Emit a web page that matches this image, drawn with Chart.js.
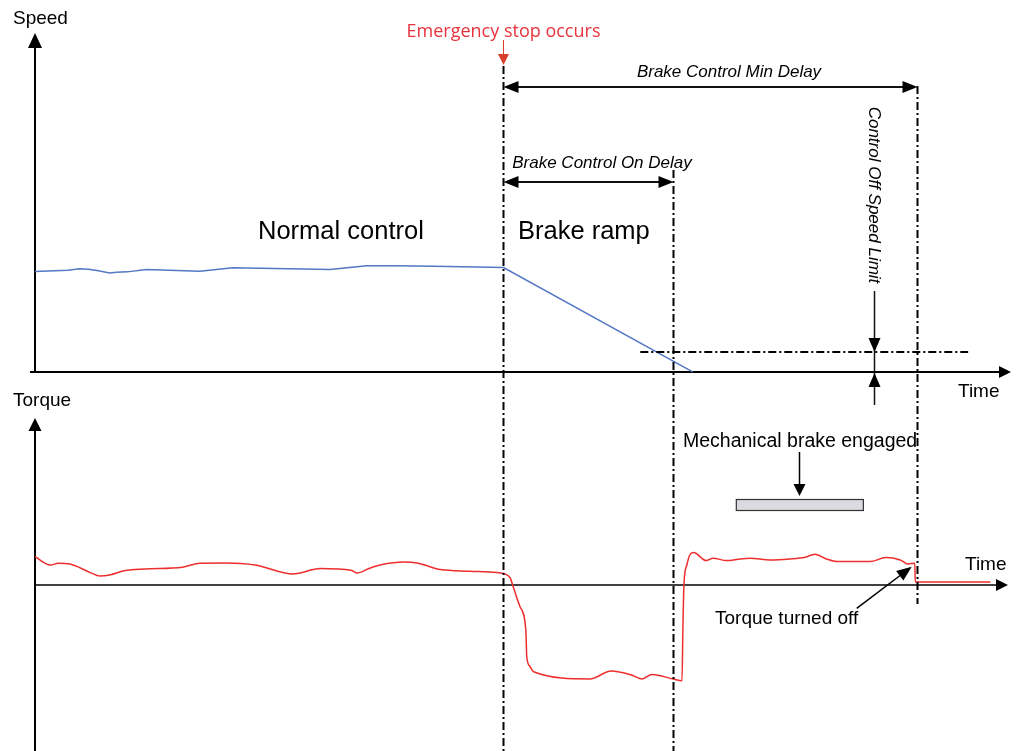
<!DOCTYPE html>
<html>
<head>
<meta charset="utf-8">
<script src="https://cdn.jsdelivr.net/npm/chart.js@4.4.1/dist/chart.umd.min.js"></script>
<style>
  html, body { margin: 0; padding: 0; background: #fff; }
</style>
</head>
<body>
<canvas id="brakeChart" width="1016" height="751"></canvas>
<script>
// speed trace, time in % of the time window, speed in % of the axis height
const speedTime  = [0, 3.4, 4.6, 5.5, 6.4, 7.7, 8.4, 9.5, 11.5, 17.0, 20.4, 30.4, 34.2, 37.3, 41.1, 48.3, 67.8];
const speedValue = [29.8, 30.2, 30.6, 30.5, 30.1, 29.4, 29.6, 29.7, 30.4, 29.9, 30.9, 30.4, 31.5, 31.5, 31.4, 31.0, 0];

// torque trace (same time base)
const torqueTime  = [0, 1.6, 2.4, 3.6, 5.7, 6.7, 7.7, 9.3, 11.3, 15.2, 17.0, 19.6, 22.7, 26.6, 29.4, 32.6, 33.2, 34.5, 36.3, 38.0,
                     39.4, 41.8, 44.8, 47.6, 48.5, 49.0, 49.3, 50.0, 50.6, 50.7, 51.0, 51.4, 57.2, 59.4, 61.5, 62.6, 63.6, 65.8, 66.7,
                     66.8, 66.9, 67.2, 67.5, 67.9, 69.2, 69.9, 71.3, 72.7, 73.7, 75.8, 77.8, 79.4, 80.4, 81.6, 82.7, 86.1, 87.7,
                     89.2, 90.0, 90.7, 90.75, 98.5];
const torqueValue = [14.2, 10.0, 10.9, 10.5, 6.2, 4.5, 5.0, 7.2, 8.0, 8.9, 10.9, 11.0, 10.0, 5.5, 8.2, 7.4, 6.0, 8.4, 10.7, 11.5,
                     11.0, 7.7, 6.9, 6.2, 5.4, 3.4, -0.9, -10.9, -22.5, -36.0, -40.5, -43.4, -47.0, -43.0, -45.0, -47.0, -44.7, -47.0, -47.9,
                     -20.0, 0, 10.0, 15.0, 16.2, 12.2, 13.4, 12.2, 13.0, 13.4, 12.5, 13.0, 13.9, 15.4, 13.0, 11.7, 11.7, 13.7,
                     12.5, 10.5, 10.9, 1.5, 1.5];

// event times: emergency stop, end of brake control on delay, end of brake control min delay
const eventTime = [48.25, 65.8, 90.9];
const speedLimit = 5.9;
const speedLimitSpan = [62.4, 96.2];
const speedLimitMark = 86.5;
const brakeSpan = [72.3, 85.4];

const SANS = '"Liberation Sans", Arial, sans-serif';

function head(ctx, x, y, dx, dy, len, w) {
    ctx.beginPath();
    ctx.moveTo(x, y);
    ctx.lineTo(x - dx * len - dy * w / 2, y - dy * len + dx * w / 2);
    ctx.lineTo(x - dx * len + dy * w / 2, y - dy * len - dx * w / 2);
    ctx.closePath();
    ctx.fill();
}

function seg(ctx, x1, y1, x2, y2) {
    ctx.beginPath();
    ctx.moveTo(x1, y1);
    ctx.lineTo(x2, y2);
    ctx.stroke();
}

// axes go under the traces
const axesPlugin = {
    id: 'axes',
    beforeDatasetsDraw(chart) {
        const ctx = chart.ctx;
        const x = chart.scales.x, ys = chart.scales.y, yt = chart.scales.y2;
        const x0 = x.getPixelForValue(0);
        const s0 = ys.getPixelForValue(0);
        const t0 = yt.getPixelForValue(0);
        ctx.save();
        ctx.strokeStyle = '#000';
        ctx.fillStyle = '#000';
        ctx.lineWidth = 2;
        // speed axes
        seg(ctx, x0, s0 + 1, x0, 46);
        head(ctx, x0, 33, 0, -1, 15, 14);
        seg(ctx, x0 - 5, s0, 1000, s0);
        head(ctx, 1011, s0, 1, 0, 12, 12);
        // torque axes
        seg(ctx, x0, 751, x0, 428);
        head(ctx, x0, 418, 0, -1, 13, 13);
        ctx.lineWidth = 1.5;
        seg(ctx, x0, t0, 998, t0);
        head(ctx, 1008, t0, 1, 0, 12, 12);

        ctx.font = '19px ' + SANS;
        ctx.textBaseline = 'alphabetic';
        ctx.textAlign = 'left';
        ctx.fillText('Speed', 13, 24);
        ctx.fillText('Torque', 13, 406);
        ctx.fillText('Time', 958, 397);
        ctx.fillText('Time', 965, 570);
        ctx.restore();
    }
};

// event markers and labels on top
const notesPlugin = {
    id: 'notes',
    afterDatasetsDraw(chart) {
        const ctx = chart.ctx;
        const x = chart.scales.x, ys = chart.scales.y, yt = chart.scales.y2;
        const eX = eventTime.map(t => Math.round(x.getPixelForValue(t)) + 0.5);
        ctx.save();

        // dash-dot markers
        ctx.strokeStyle = '#000';
        ctx.lineWidth = 2;
        ctx.setLineDash([8, 3, 2, 3]);
        seg(ctx, eX[0], 66, eX[0], 751);
        seg(ctx, eX[1], 170, eX[1], 751);
        seg(ctx, eX[2], 86, eX[2], 604);
        const ly = ys.getPixelForValue(speedLimit);
        seg(ctx, x.getPixelForValue(speedLimitSpan[0]), ly, x.getPixelForValue(speedLimitSpan[1]), ly);
        ctx.setLineDash([]);

        // delay arrows
        ctx.fillStyle = '#000';
        ctx.strokeStyle = '#111';
        ctx.lineWidth = 2;
        seg(ctx, eX[0] + 10, 87, eX[2] - 10, 87);
        head(ctx, eX[0], 87, -1, 0, 15, 12);
        head(ctx, eX[2], 87, 1, 0, 15, 12);
        seg(ctx, eX[0] + 10, 182, eX[1] - 10, 182);
        head(ctx, eX[0], 182, -1, 0, 15, 12);
        head(ctx, eX[1], 182, 1, 0, 15, 12);

        ctx.font = 'italic 17px ' + SANS;
        ctx.textAlign = 'center';
        ctx.fillText('Brake Control Min Delay', 729, 77);
        ctx.fillText('Brake Control On Delay', 602, 168);

        // speed limit arrows
        const mx = Math.round(x.getPixelForValue(speedLimitMark)) + 0.5;
        const s0 = ys.getPixelForValue(0);
        ctx.lineWidth = 1.5;
        seg(ctx, mx, 291, mx, 405);
        head(ctx, mx, ly, 0, 1, 14, 12);
        head(ctx, mx, s0 + 1, 0, -1, 14, 12);
        ctx.save();
        ctx.translate(mx - 1, 195);
        ctx.rotate(Math.PI / 2);
        ctx.font = 'italic 17px ' + SANS;
        ctx.textBaseline = 'middle';
        ctx.fillText('Control Off Speed Limit', 0, 0);
        ctx.restore();

        // emergency stop
        ctx.strokeStyle = '#d9402b';
        ctx.fillStyle = '#d9402b';
        ctx.lineWidth = 1;
        seg(ctx, eX[0], 40, eX[0], 56);
        head(ctx, eX[0], 65, 0, 1, 11, 11);
        ctx.fillStyle = '#e8323c';
        ctx.font = '18px "Open Sans", sans-serif';
        ctx.textAlign = 'center';
        ctx.fillText('Emergency stop occurs', eX[0], 37);

        // phase labels
        ctx.fillStyle = '#000';
        ctx.font = '25.5px ' + SANS;
        ctx.textAlign = 'left';
        ctx.fillText('Normal control', 258, 239);
        ctx.fillText('Brake ramp', 518, 239);

        // mechanical brake
        const bx1 = x.getPixelForValue(brakeSpan[0]);
        const bx2 = x.getPixelForValue(brakeSpan[1]);
        ctx.fillStyle = '#d9dbe0';
        ctx.fillRect(bx1, 499.5, bx2 - bx1, 11);
        ctx.strokeStyle = '#333';
        ctx.lineWidth = 1.2;
        ctx.strokeRect(bx1, 499.5, bx2 - bx1, 11);
        ctx.fillStyle = '#000';
        ctx.strokeStyle = '#000';
        ctx.lineWidth = 1.5;
        seg(ctx, 799.5, 452, 799.5, 486);
        head(ctx, 799.5, 496, 0, 1, 12, 12);
        ctx.font = '19.5px ' + SANS;
        ctx.fillText('Mechanical brake engaged', 683, 447);

        // torque turned off
        const dx = 911.7 - 856.7, dy = 566.7 - 608.3;
        const d = Math.hypot(dx, dy);
        seg(ctx, 856.7, 608.3, 911.7 - dx / d * 10, 566.7 - dy / d * 10);
        head(ctx, 911.7, 566.7, dx / d, dy / d, 15, 12);
        ctx.font = '19px ' + SANS;
        ctx.fillText('Torque turned off', 715, 624);
        ctx.restore();
    }
};

new Chart(document.getElementById('brakeChart'), {
    type: 'line',
    data: {
        datasets: [{
            label: 'Speed',
            data: speedTime.map((t, i) => ({ x: t, y: speedValue[i] })),
            yAxisID: 'y',
            borderColor: '#5478c6',
            borderWidth: 1.5,
            pointRadius: 0,
            tension: 0
        }, {
            label: 'Torque',
            data: torqueTime.map((t, i) => ({ x: t, y: torqueValue[i] })),
            yAxisID: 'y2',
            borderColor: '#ee2e2e',
            borderWidth: 1.5,
            pointRadius: 0,
            cubicInterpolationMode: 'monotone'
        }]
    },
    options: {
        responsive: false,
        animation: false,
        layout: { padding: { left: 35, right: 11, top: 35, bottom: 0 } },
        scales: {
            x: { type: 'linear', min: 0, max: 100, display: false },
            y: { min: -112.5, max: 100, display: false },
            y2: { min: -83, max: 275, display: false }
        },
        plugins: {
            legend: { display: false },
            tooltip: { enabled: false }
        }
    },
    plugins: [axesPlugin, notesPlugin]
});
</script>
</body>
</html>
